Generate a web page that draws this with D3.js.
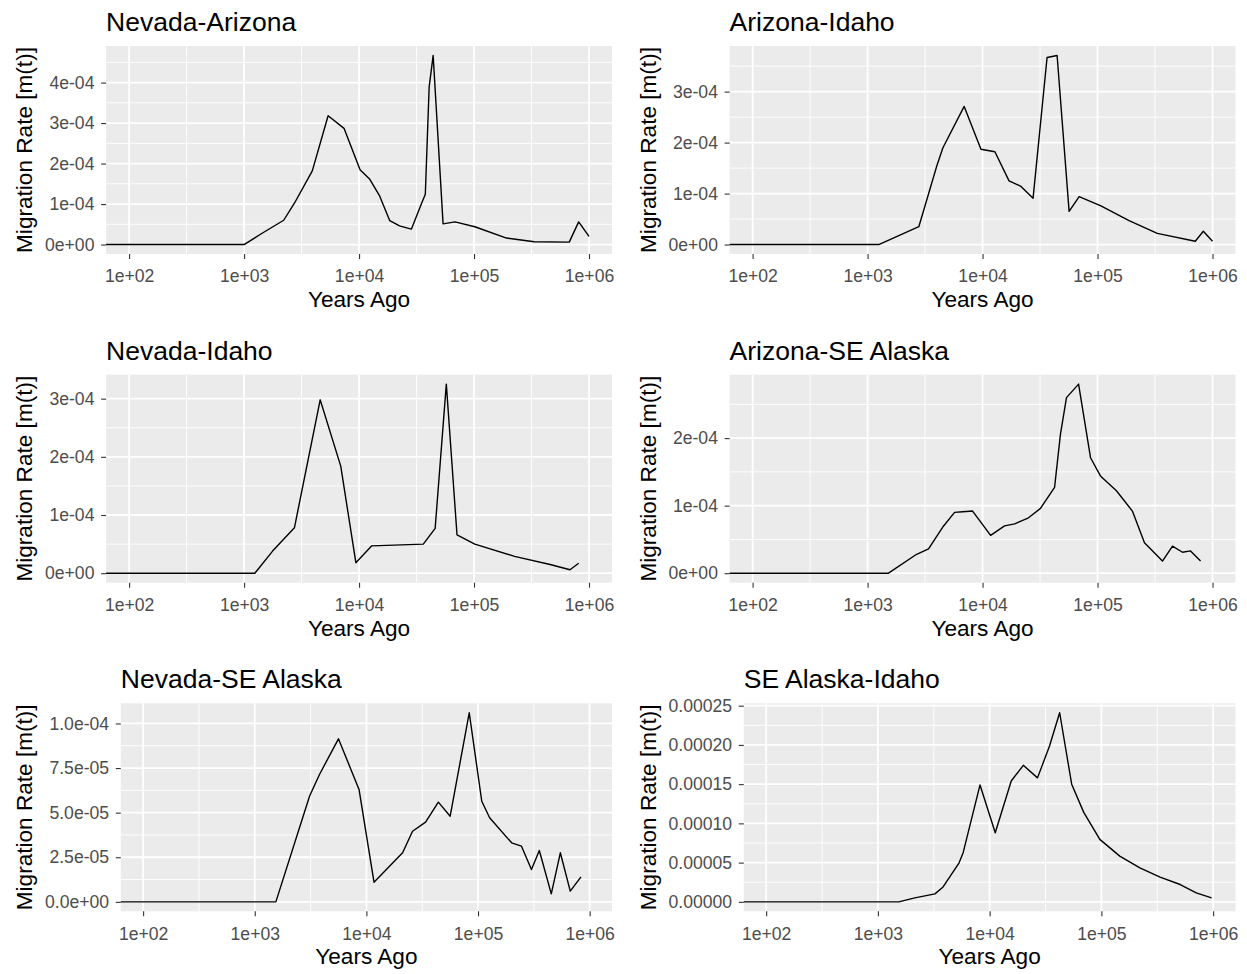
<!DOCTYPE html>
<html>
<head>
<meta charset="utf-8">
<script src="https://cdn.jsdelivr.net/npm/d3@7"></script>
<style>
  body { margin: 0; background: #fff; }
  svg { display: block; font-family: "Liberation Sans", Arial, sans-serif; }
</style>
</head>
<body>
<div id="chart"></div>
<script>
// panel titles, in reading order
const titles = ["Nevada-Arizona", "Arizona-Idaho", "Nevada-Idaho",
  "Arizona-SE Alaska", "Nevada-SE Alaska", "SE Alaska-Idaho"]

// shared x axis (years ago, log10)
const yearsExtent = [100, 1e6]
const xTicks = [1e2, 1e3, 1e4, 1e5, 1e6]
const xTickLabels = ["1e+02", "1e+03", "1e+04", "1e+05", "1e+06"]

// Nevada-Arizona
const naYears = [0, 100, 1000, 1400, 2210, 2740, 3920, 5380, 7400, 10200, 12400, 15100, 18500,
  22500, 28500, 34800, 37700, 40700, 44100, 53800, 68300, 101600, 191700, 334000, 673000, 813000, 1000000]
const naRate = [0, 0, 0, 0.26e-4, 0.60e-4, 1.02e-4, 1.82e-4, 3.18e-4, 2.87e-4, 1.85e-4, 1.61e-4, 1.20e-4, 0.59e-4,
  0.46e-4, 0.38e-4, 1.0e-4, 1.24e-4, 3.89e-4, 4.67e-4, 0.51e-4, 0.56e-4, 0.44e-4, 0.16e-4, 0.07e-4, 0.06e-4, 0.56e-4, 0.20e-4]

// Arizona-Idaho
const aiYears = [0, 100, 1250, 2790, 4010, 4520, 6920, 9680, 12800, 17000, 21600, 27500, 36400,
  44500, 56600, 69200, 107000, 188000, 331000, 708000, 832000, 1000000]
const aiRate = [0, 0, 0, 0.35e-4, 1.55e-4, 1.90e-4, 2.71e-4, 1.87e-4, 1.82e-4, 1.25e-4, 1.14e-4, 0.91e-4, 3.67e-4,
  3.71e-4, 0.65e-4, 0.94e-4, 0.76e-4, 0.47e-4, 0.22e-4, 0.065e-4, 0.26e-4, 0.065e-4]

// Nevada-Idaho
const niYears = [0, 100, 1240, 1770, 2740, 4590, 6930, 9380, 12900, 36200, 45900, 57400, 71100,
  101600, 225000, 459000, 683000, 813000]
const niRate = [0, 0, 0, 0.38e-4, 0.78e-4, 2.98e-4, 1.84e-4, 0.18e-4, 0.47e-4, 0.50e-4, 0.77e-4, 3.25e-4, 0.66e-4,
  0.50e-4, 0.29e-4, 0.15e-4, 0.06e-4, 0.17e-4]

// Arizona-SE Alaska
const asYears = [0, 100, 1520, 2670, 3390, 4490, 5710, 6700, 8190, 11750, 15540, 19000, 25100, 31900,
  42300, 47600, 53700, 68400, 86900, 106000, 146000, 201000, 256000, 367000, 449000, 548000, 644000, 787000]
const asRate = [0, 0, 0, 0.28e-4, 0.36e-4, 0.68e-4, 0.90e-4, 0.91e-4, 0.92e-4, 0.56e-4, 0.70e-4, 0.73e-4, 0.82e-4, 0.96e-4,
  1.27e-4, 2.06e-4, 2.60e-4, 2.80e-4, 1.71e-4, 1.44e-4, 1.22e-4, 0.92e-4, 0.45e-4, 0.18e-4, 0.40e-4, 0.31e-4, 0.33e-4, 0.18e-4]

// Nevada-SE Alaska
const nsYears = [0, 100, 1545, 3100, 3800, 5620, 8590, 11700, 21100, 25900, 33900, 44100, 56300,
  83400, 108000, 127000, 200000, 245000, 301000, 354000, 453000, 546000, 670000, 836000]
const nsRate = [0, 0, 0, 5.93e-5, 7.14e-5, 9.14e-5, 6.30e-5, 1.10e-5, 2.75e-5, 3.96e-5, 4.47e-5, 5.59e-5, 4.80e-5,
  10.6e-5, 5.64e-5, 4.71e-5, 3.31e-5, 3.12e-5, 1.81e-5, 2.88e-5, 0.45e-5, 2.75e-5, 0.60e-5, 1.40e-5]

// SE Alaska-Idaho
const siYears = [0, 100, 1540, 2140, 3240, 3830, 5330, 5800, 8200, 11220, 15600, 20000, 26800, 34400,
  42300, 54200, 69500, 96800, 146000, 221000, 335000, 507000, 706000, 968000]
const siRate = [0, 0, 0, 0.51e-5, 1.02e-5, 1.90e-5, 4.98e-5, 6.3e-5, 14.9e-5, 8.8e-5, 15.4e-5, 17.4e-5, 15.8e-5, 19.9e-5,
  24.1e-5, 15.0e-5, 11.4e-5, 7.96e-5, 5.83e-5, 4.34e-5, 3.15e-5, 2.21e-5, 1.15e-5, 0.51e-5]

// y ticks and their labels
const yTicksA = [0, 1e-4, 2e-4, 3e-4, 4e-4]
const yLabelsA = ["0e+00", "1e-04", "2e-04", "3e-04", "4e-04"]
const yTicksB = [0, 1e-4, 2e-4, 3e-4]
const yLabelsB = ["0e+00", "1e-04", "2e-04", "3e-04"]
const yTicksC = [0, 1e-4, 2e-4]
const yLabelsC = ["0e+00", "1e-04", "2e-04"]
const yTicksD = [0, 2.5e-5, 5e-5, 7.5e-5, 1e-4]
const yLabelsD = ["0.0e+00", "2.5e-05", "5.0e-05", "7.5e-05", "1.0e-04"]
const yTicksE = [0, 5e-5, 1e-4, 1.5e-4, 2e-4, 2.5e-4]
const yLabelsE = ["0.00000", "0.00005", "0.00010", "0.00015", "0.00020", "0.00025"]

const panels = [
  { years: naYears, rate: naRate, yTicks: yTicksA, yLabels: yLabelsA },
  { years: aiYears, rate: aiRate, yTicks: yTicksB, yLabels: yLabelsB },
  { years: niYears, rate: niRate, yTicks: yTicksB, yLabels: yLabelsB },
  { years: asYears, rate: asRate, yTicks: yTicksC, yLabels: yLabelsC },
  { years: nsYears, rate: nsRate, yTicks: yTicksD, yLabels: yLabelsD },
  { years: siYears, rate: siRate, yTicks: yTicksE, yLabels: yLabelsE }
]

const W = 1247, H = 974
const colW = W / 2
const firstTop = 46, rowStep = 328.65, plotH = 208
const tickFont = 17.6, axisFont = 22.6, titleFont = 26.5

const svg = d3.select("#chart").append("svg").attr("width", W).attr("height", H)

function textWidth(str, size) {
  const t = svg.append("text").attr("font-size", size).text(str)
  const w = t.node().getComputedTextLength()
  t.remove()
  return w
}

function styleAxis(sel) {
  sel.select(".domain").remove()
  sel.attr("font-family", null).attr("font-size", tickFont)
  sel.selectAll(".tick line").attr("stroke", "#333333").attr("stroke-width", 1.1)
  sel.selectAll(".tick text").attr("fill", "#4D4D4D")
}

panels.forEach(function (p, i) {
  const col = i % 2, row = Math.floor(i / 2)
  const cellX = col * colW
  const labW = d3.max(p.yLabels, s => textWidth(s, tickFont))
  const left = cellX + 45 + labW + 11.7
  const right = cellX + colW - 11.5
  const top = firstTop + row * rowStep
  const width = right - left

  // x scale: log10 with 5% expansion, like ggplot
  const lo = Math.log10(yearsExtent[0]), hi = Math.log10(yearsExtent[1])
  const xp = 0.05 * (hi - lo)
  const x = d3.scaleLog().domain([Math.pow(10, lo - xp), Math.pow(10, hi + xp)])
    .range([0, width]).clamp(true)

  const yMin = d3.min(p.rate), yMax = d3.max(p.rate)
  const yp = 0.05 * (yMax - yMin)
  const y = d3.scaleLinear().domain([yMin - yp, yMax + yp]).range([plotH, 0])

  const g = svg.append("g").attr("transform", "translate(" + left + "," + top + ")")

  g.append("rect").attr("width", width).attr("height", plotH).attr("fill", "#EBEBEB")

  // minor grid
  const xMinor = d3.range(1, 7).map(k => Math.pow(10, k + 0.5))
    .filter(v => v > x.domain()[0] && v < x.domain()[1])
  const step = p.yTicks[1] - p.yTicks[0]
  const yMinor = d3.range(-1, p.yTicks.length).map(k => p.yTicks[0] + (k + 0.5) * step)
    .filter(v => v > y.domain()[0] && v < y.domain()[1])

  g.selectAll(".vminor").data(xMinor).enter().append("line")
    .attr("x1", d => x(d)).attr("x2", d => x(d)).attr("y1", 0).attr("y2", plotH)
    .attr("stroke", "#fff").attr("stroke-width", 0.9)
  g.selectAll(".hminor").data(yMinor).enter().append("line")
    .attr("x1", 0).attr("x2", width).attr("y1", d => y(d)).attr("y2", d => y(d))
    .attr("stroke", "#fff").attr("stroke-width", 0.9)

  // major grid
  g.selectAll(".vmajor").data(xTicks).enter().append("line")
    .attr("x1", d => x(d)).attr("x2", d => x(d)).attr("y1", 0).attr("y2", plotH)
    .attr("stroke", "#fff").attr("stroke-width", 1.8)
  g.selectAll(".hmajor").data(p.yTicks).enter().append("line")
    .attr("x1", 0).attr("x2", width).attr("y1", d => y(d)).attr("y2", d => y(d))
    .attr("stroke", "#fff").attr("stroke-width", 1.8)

  // the migration-rate line
  const pts = d3.zip(p.years, p.rate)
  g.append("path").datum(pts)
    .attr("fill", "none").attr("stroke", "#000").attr("stroke-width", 1.4)
    .attr("stroke-linejoin", "round")
    .attr("d", d3.line().x(d => x(d[0])).y(d => y(d[1])))

  // axes
  g.append("g").attr("transform", "translate(0," + plotH + ")")
    .call(d3.axisBottom(x).tickValues(xTicks).tickFormat((d, j) => xTickLabels[j])
      .tickSize(5).tickPadding(11))
    .call(styleAxis)

  g.append("g")
    .call(d3.axisLeft(y).tickValues(p.yTicks).tickFormat((d, j) => p.yLabels[j])
      .tickSize(5).tickPadding(6.7))
    .call(styleAxis)

  // titles
  g.append("text").attr("x", 0).attr("y", -15)
    .attr("font-size", titleFont).attr("fill", "#000").text(titles[i])

  g.append("text").attr("x", width / 2).attr("y", plotH + 53)
    .attr("text-anchor", "middle").attr("font-size", axisFont).attr("fill", "#000")
    .text("Years Ago")

  g.append("text")
    .attr("transform", "translate(" + (cellX + 32 - left) + "," + plotH / 2 + ") rotate(-90)")
    .attr("text-anchor", "middle").attr("font-size", axisFont).attr("fill", "#000")
    .text("Migration Rate [m(t)]")
})
</script>
</body>
</html>
